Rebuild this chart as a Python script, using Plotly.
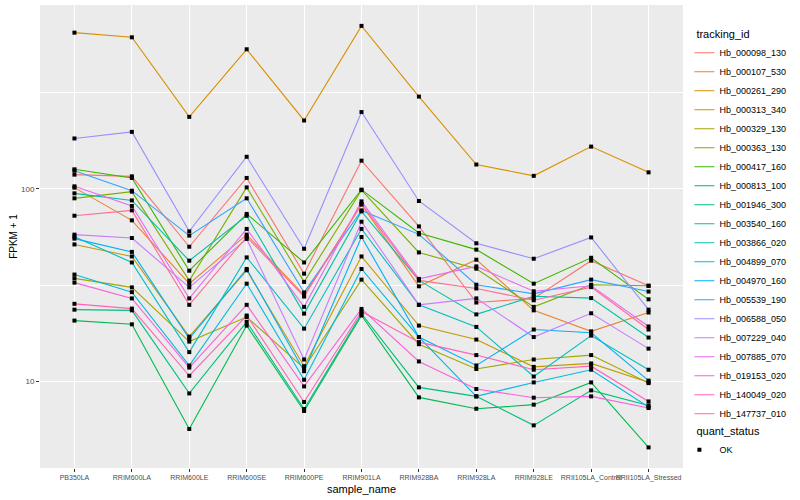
import plotly.graph_objects as go

samples = ["PB350LA", "RRIM600LA", "RRIM600LE", "RRIM600SE", "RRIM600PE", "RRIM901LA",
           "RRIM928BA", "RRIM928LA", "RRIM928LE", "RRII105LA_Control", "RRII105LA_Stressed"]

tracking_ids = ["Hb_000098_130", "Hb_000107_530", "Hb_000261_290", "Hb_000313_340",
                "Hb_000329_130", "Hb_000363_130", "Hb_000417_160", "Hb_000813_100",
                "Hb_001946_300", "Hb_003540_160", "Hb_003866_020", "Hb_004899_070",
                "Hb_004970_160", "Hb_005539_190", "Hb_006588_050", "Hb_007229_040",
                "Hb_007885_070", "Hb_019153_020", "Hb_140049_020", "Hb_147737_010"]

colors = ["#F8766D", "#EA8331", "#D89000", "#C09B00", "#A3A500", "#7CAE00", "#39B600",
          "#00BB4E", "#00BF7D", "#00C1A3", "#00BFC4", "#00BAE0", "#00B0F6", "#35A2FF",
          "#9590FF", "#C77CFF", "#E76BF3", "#FA62DB", "#FF62BC", "#FF6C91"]

# FPKM + 1 per sample (in the order of `samples`)
hb_000098_130 = [118.7, 116.3, 50.1, 114.1, 36.3, 140.3, 63.9, 25.7, 27.0, 42.4, 31.4]
hb_000107_530 = [101.6, 68.7, 32.2, 57.9, 28.1, 82.9, 31.2, 42.9, 23.4, 18.2, 22.8]
hb_000261_290 = [649, 614, 237, 532, 227, 704, 302, 134, 117, 166, 122]
hb_000313_340 = [51.5, 44.6, 17.1, 37.8, 12.0, 44.6, 19.5, 16.5, 11.9, 12.4, 9.9]
hb_000329_130 = [34.3, 30.8, 16.1, 21.6, 11.7, 33.8, 15.6, 11.6, 13.0, 13.7, 9.8]
hb_000363_130 = [89.4, 96.8, 33.4, 101.9, 32.9, 98.6, 46.8, 38.5, 24.4, 31.8, 31.4]
hb_000417_160 = [126.5, 114.1, 37.6, 74.2, 41.5, 99.2, 59.1, 48.4, 32.2, 43.9, 26.7]
hb_000813_100 = [20.7, 19.8, 5.66, 19.5, 7.02, 22.0, 8.26, 7.21, 7.57, 9.88, 4.54]
hb_001946_300 = [23.6, 23.4, 8.66, 20.4, 7.19, 22.5, 9.31, 8.36, 5.91, 8.98, 7.50]
hb_003540_160 = [94.9, 87.2, 42.4, 72.6, 22.5, 76.5, 33.5, 22.3, 27.7, 27.1, 16.9]
hb_003866_020 = [56.5, 41.5, 14.2, 44.1, 18.8, 62.0, 25.0, 19.2, 10.6, 17.3, 11.5]
hb_004899_070 = [35.9, 29.1, 12.1, 32.2, 10.2, 38.4, 17.0, 8.36, 9.88, 11.5, 7.36]
hb_004970_160 = [55.2, 47.1, 16.7, 38.4, 11.3, 56.3, 17.0, 12.1, 18.6, 17.9, 10.1]
hb_005539_190 = [124.5, 98.0, 57.2, 89.4, 29.0, 77.4, 58.1, 31.8, 28.5, 33.8, 29.3]
hb_006588_050 = [183, 198, 60.2, 147, 48.9, 251, 86.6, 52.2, 43.4, 56.0, 23.6]
hb_007229_040 = [57.9, 55.6, 30.8, 55.0, 13.0, 67.6, 25.0, 27.0, 17.0, 22.6, 14.8]
hb_007885_070 = [103.2, 81.6, 27.0, 62.0, 24.4, 86.2, 34.1, 39.6, 29.4, 31.4, 19.3]
hb_019153_020 = [32.6, 27.0, 11.8, 25.0, 9.42, 23.8, 12.7, 9.13, 8.23, 8.36, 7.27]
hb_140049_020 = [25.3, 23.9, 10.7, 22.0, 7.82, 23.1, 16.0, 13.7, 11.5, 12.0, 7.87]
hb_147737_010 = [72.6, 77.4, 25.0, 56.3, 27.6, 83.6, 33.5, 30.4, 26.4, 30.9, 18.6]

series = [hb_000098_130, hb_000107_530, hb_000261_290, hb_000313_340, hb_000329_130,
          hb_000363_130, hb_000417_160, hb_000813_100, hb_001946_300, hb_003540_160,
          hb_003866_020, hb_004899_070, hb_004970_160, hb_005539_190, hb_006588_050,
          hb_007229_040, hb_007885_070, hb_019153_020, hb_140049_020, hb_147737_010]

quant_status = "OK"

FONT = "Liberation Sans, Arial, Helvetica, sans-serif"

fig = go.Figure()
for name, col, vals in zip(tracking_ids, colors, series):
    fig.add_trace(go.Scatter(x=samples, y=vals, mode="lines", name=name,
                             line=dict(color=col, width=1.1), legend="legend"))

pts_x = [s for vals in series for s in samples]
pts_y = [v for vals in series for v in vals]
fig.add_trace(go.Scatter(x=pts_x, y=pts_y, mode="markers", name=quant_status,
                         marker=dict(symbol="square", size=4, color="black"),
                         legend="legend2"))

fig.update_layout(
    width=800, height=500,
    margin=dict(l=40, r=117, t=5, b=32),
    paper_bgcolor="white", plot_bgcolor="#EBEBEB",
    font=dict(family=FONT, color="black"),
    showlegend=True,
    legend=dict(title=dict(text="tracking_id", font=dict(size=11)),
                font=dict(size=9), xref="container", yref="container",
                x=0.868, y=0.952, xanchor="left", yanchor="top", maxheight=480,
                bgcolor="rgba(0,0,0,0)", indentation=-15, tracegroupgap=0),
    legend2=dict(title=dict(text="quant_status", font=dict(size=11)),
                 font=dict(size=9), xref="container", yref="container",
                 x=0.868, y=0.158, xanchor="left", yanchor="top",
                 bgcolor="rgba(0,0,0,0)", indentation=-15),
)

fig.update_xaxes(type="category", categoryorder="array", categoryarray=samples,
                 range=[-0.6, len(samples) - 0.4], automargin=False,
                 tickmode="array", tickvals=samples, ticktext=samples, tickangle=0,
                 tickfont=dict(size=7, color="#4D4D4D"),
                 showgrid=True, gridcolor="white", gridwidth=1,
                 ticks="outside", ticklen=3, tickcolor="#333333", tickwidth=1,
                 zeroline=False, showline=False,
                 title=dict(text="sample_name", font=dict(size=11), standoff=3))

fig.update_yaxes(type="log", range=[0.55, 2.956], automargin=False,
                 tickmode="array", tickvals=[10, 100], ticktext=["10", "100"],
                 tickfont=dict(size=8, color="#4D4D4D"),
                 showgrid=True, gridcolor="white", gridwidth=1,
                 minor=dict(tickmode="array", tickvals=[31.62, 316.2], showgrid=True,
                            gridcolor="white", gridwidth=0.5, ticks=""),
                 ticks="outside", ticklen=3, tickcolor="#333333", tickwidth=1,
                 zeroline=False, showline=False,
                 title=dict(text="FPKM + 1", font=dict(size=10), standoff=1))

fig.write_html("out.html", config={"displayModeBar": False},
               post_script="document.body.style.margin='0';document.body.style.overflow='hidden';")
